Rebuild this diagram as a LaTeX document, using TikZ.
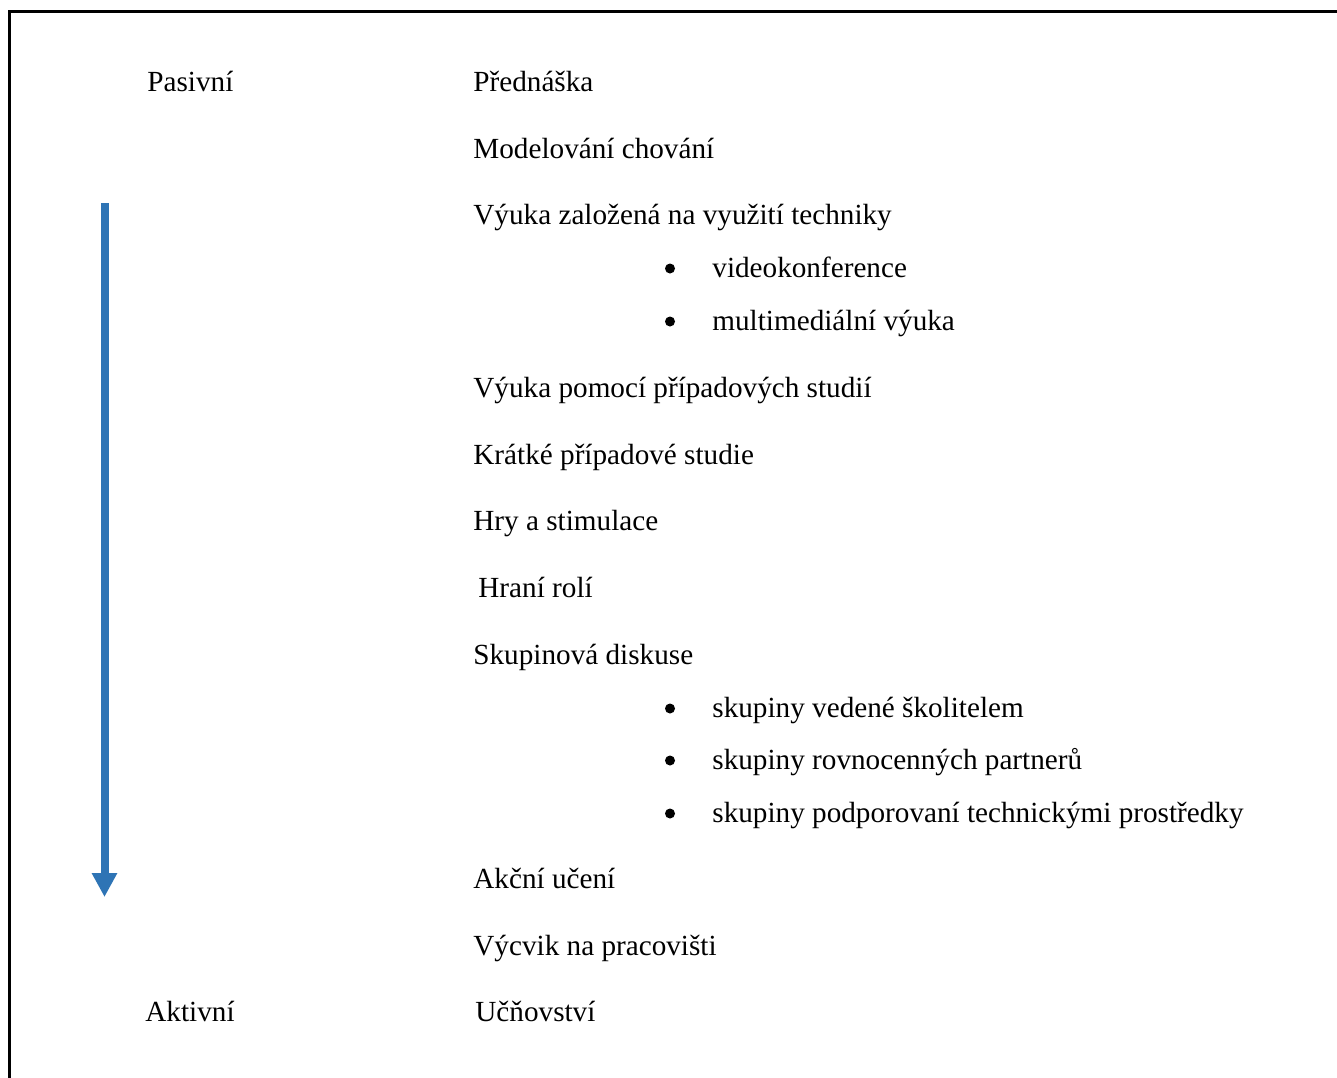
\documentclass[tikz,border=0pt]{standalone}
\usepackage{fontspec}
\setmainfont{Liberation Serif}
\usetikzlibrary{arrows.meta}
\definecolor{arrowblue}{RGB}{46,116,181}
\begin{document}
\begin{tikzpicture}[x=0.5pt,y=-0.5pt,
  label/.style={anchor=base west, inner sep=0pt, font=\fontsize{14.6}{17}\selectfont},
  item/.style={label},
  dot/.style={circle, fill, inner sep=0pt, minimum size=5pt}]
\useasboundingbox (0,0) rectangle (1337,1077);
% frame
\coordinate (fb) at (9.5,1080);
\coordinate (ftl) at (9.5,11.5);
\coordinate (fr) at (1340,11.5);
\draw[line width=1.5pt] (fb) -- (ftl) -- (fr);

\node (pas) at (147,91) [label] {Pasivní};
\node (akt) at (145,1021) [label] {Aktivní};

\node (i1) at (473,91) [item] {Přednáška};
\node (i2) at (473,158) [item] {Modelování chování};
\node (i3) at (473,224) [item] {Výuka založená na využití techniky};
\node (b1) at (670,268.5) [dot] {};
\node (t1) at (712,277) [item] {videokonference};
\node (b2) at (670,321.5) [dot] {};
\node (t2) at (712,330) [item] {multimediální výuka};
\node (i4) at (473,397) [item] {Výuka pomocí případových studií};
\node (i5) at (473,464) [item] {Krátké případové studie};
\node (i6) at (473,530) [item] {Hry a stimulace};
\node (i7) at (478,597) [item] {Hraní rolí};
\node (i8) at (473,664) [item] {Skupinová diskuse};
\node (b3) at (670,708.5) [dot] {};
\node (t3) at (712,717) [item] {skupiny vedené školitelem};
\node (b4) at (670,760.5) [dot] {};
\node (t4) at (712,769) [item] {skupiny rovnocenných partnerů};
\node (b5) at (670,813.5) [dot] {};
\node (t5) at (712,822) [item] {skupiny podporovaní technickými prostředky};
\node (i9) at (473,888) [item] {Akční učení};
\node (i10) at (473,955) [item] {Výcvik na pracovišti};
\node (i11) at (475,1021) [item] {Učňovství};

% arrow passive -> active
\coordinate (atop) at (104.5,203);
\coordinate (abot) at (104.5,897);
\draw[arrowblue, line width=4pt, -{Triangle[width=12pt,length=12pt]}] (atop) -- (abot);
\end{tikzpicture}
\end{document}
